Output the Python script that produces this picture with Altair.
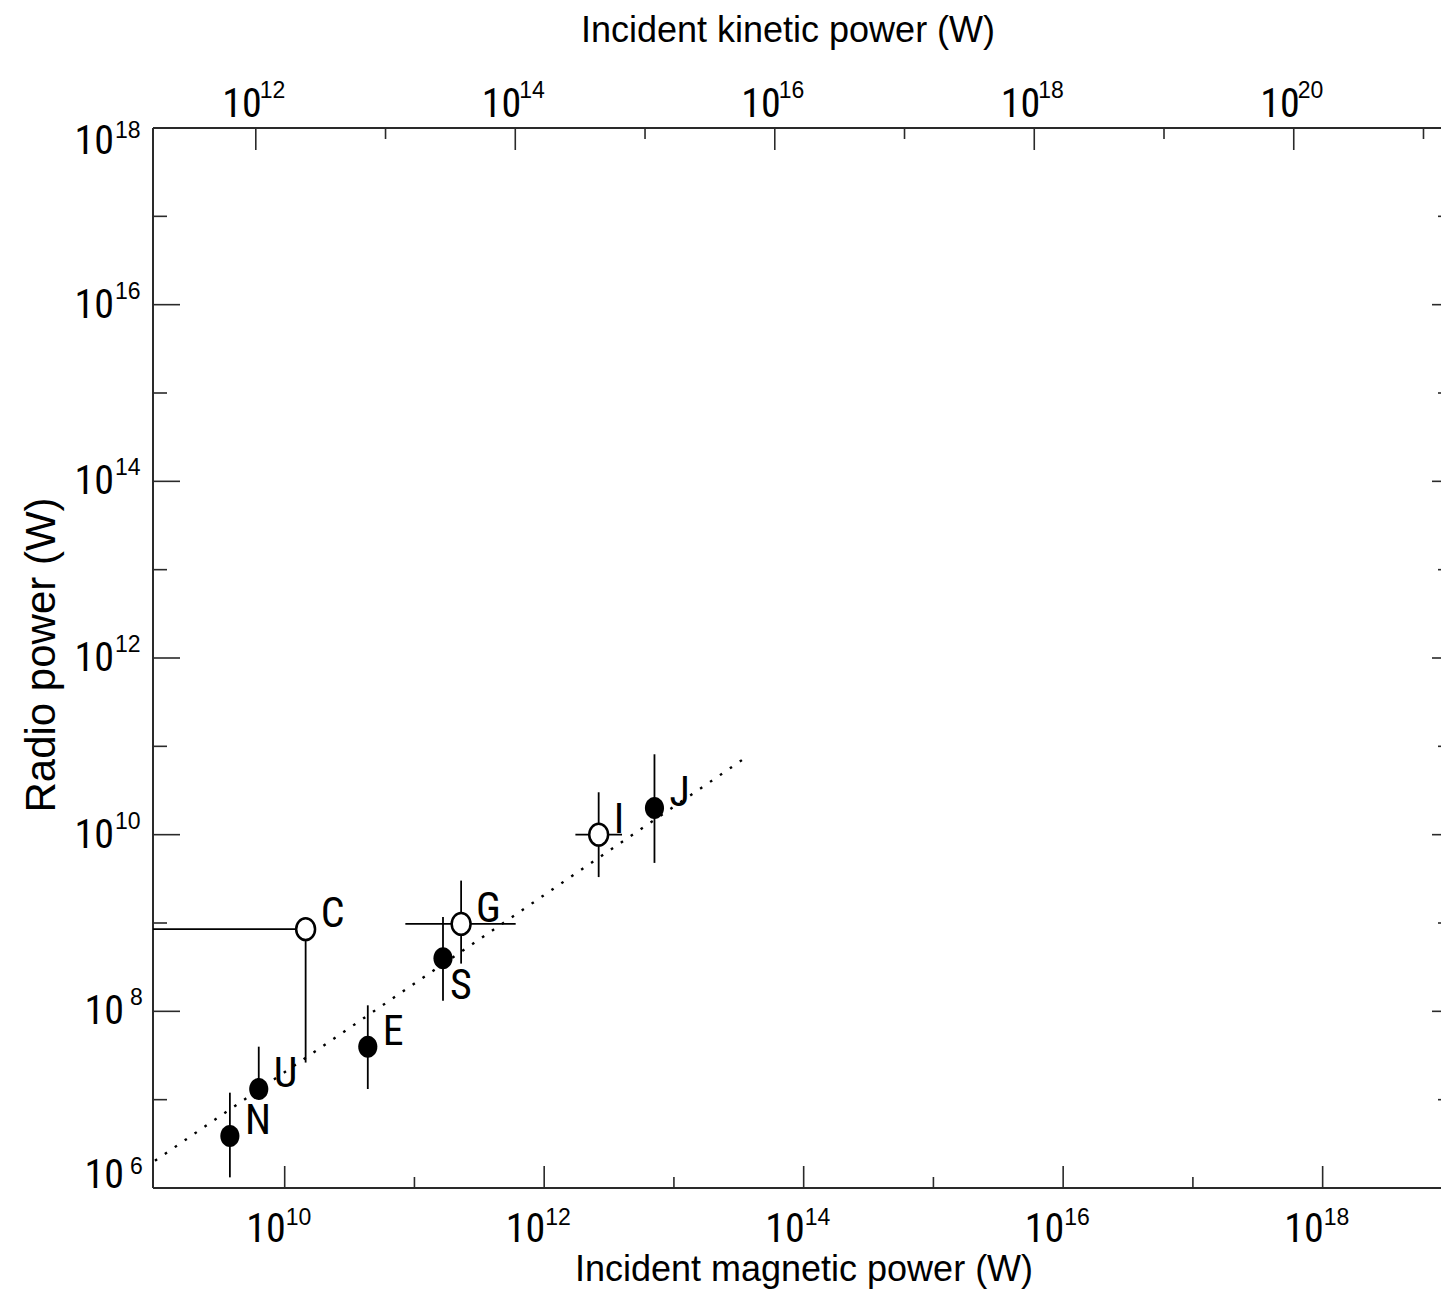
import math
import altair as alt
import pandas as pd

# ---------------- data ----------------
names = ["N", "U", "C", "E", "S", "G", "I", "J"]
filled = [True, True, False, True, True, False, False, True]
mag_pow = [3.78e9, 6.31e9, 1.45e10, 4.37e10, 1.66e11, 2.29e11, 2.63e12, 7.08e12]
radio_pow = [3.89e6, 1.32e7, 8.51e8, 3.98e7, 3.98e8, 9.77e8, 1.00e10, 2.00e10]
radio_lo = [1.32e6, 1.32e7, 2.63e7, 1.32e7, 1.32e8, 3.47e8, 3.31e9, 4.79e9]
radio_hi = [1.20e7, 3.98e7, 8.51e8, 1.17e8, 1.17e9, 3.02e9, 3.02e10, 8.13e10]
mag_lo = [None, None, 5.0e8, None, None, 8.51e10, 1.74e12, None]
mag_hi = [None, None, 1.45e10, None, None, 6.03e11, 3.98e12, None]

fit_mag = [1.0e9, 3.39e13]
fit_radio = [2.04e6, 7.08e10]

x_major = [1e10, 1e12, 1e14, 1e16, 1e18]
x_minor = [1e11, 1e13, 1e15, 1e17]
y_major = [1e6, 1e8, 1e10, 1e12, 1e14, 1e16, 1e18]
y_minor = [1e7, 1e9, 1e11, 1e13, 1e15, 1e17]
kin_major = [1e12, 1e14, 1e16, 1e18, 1e20]
kin_minor = [1e13, 1e15, 1e17, 1e19, 1e21]
kin_per_mag = 167.0  # top axis: incident kinetic power per unit incident magnetic power

X_DOMAIN = [9.66e8, 8.17e18]
Y_DOMAIN = [1e6, 1e18]

title_top = "Incident kinetic power (W)"
title_bottom = "Incident magnetic power (W)"
title_left = "Radio power (W)"

# ---------------- layout / style ----------------
W, H = 1288, 1060
LAB_FONT = "Roboto Condensed, Liberation Sans Narrow, Liberation Sans, Arial, sans-serif"
EXP_FONT = "Liberation Sans, Arial, sans-serif"
TITLE_FONT = "Liberation Sans, Arial, sans-serif"
AX = "#2a2a2a"
BASE_SIZE = 40
EXP_SIZE = 23

xs = alt.Scale(type="log", domain=X_DOMAIN, nice=False, zero=False)
ys = alt.Scale(type="log", domain=Y_DOMAIN, nice=False, zero=False)


def X(f):
    return alt.X(f, type="quantitative", scale=xs, axis=None)


def Y(f):
    return alt.Y(f, type="quantitative", scale=ys, axis=None)


def exps(vals):
    return [str(int(round(math.log10(v)))) for v in vals]


pts = pd.DataFrame({
    "name": names, "filled": filled, "mag": mag_pow, "radio": radio_pow,
    "lo": radio_lo, "hi": radio_hi, "mlo": mag_lo, "mhi": mag_hi,
})
fit = pd.DataFrame({"mag": fit_mag, "radio": fit_radio})

xmaj = pd.DataFrame({"v": x_major, "e": exps(x_major)})
xmin = pd.DataFrame({"v": x_minor})
ymaj = pd.DataFrame({"v": y_major, "e": exps(y_major)})
ymin = pd.DataFrame({"v": y_minor})
kmaj = pd.DataFrame({"v": [k / kin_per_mag for k in kin_major], "e": exps(kin_major)})
kmin = pd.DataFrame({"v": [k / kin_per_mag for k in kin_minor]})
one = pd.DataFrame({"a": [0]})

layers = []

# axis frame lines (left, bottom, top)
layers.append(alt.Chart(one).mark_rule(color=AX, strokeWidth=2).encode(
    x=alt.value(0), y=alt.value(0), y2=alt.value(H)))
layers.append(alt.Chart(one).mark_rule(color=AX, strokeWidth=2).encode(
    x=alt.value(0), x2=alt.value(W), y=alt.value(H)))
layers.append(alt.Chart(one).mark_rule(color=AX, strokeWidth=2).encode(
    x=alt.value(0), x2=alt.value(W), y=alt.value(0)))


# ticks (pointing inward)
def vtick(df, y0, y1):
    return alt.Chart(df).mark_rule(color=AX, strokeWidth=1.6).encode(
        x=X("v"), y=alt.value(y0), y2=alt.value(y1))


def htick(df, x0, x1):
    return alt.Chart(df).mark_rule(color=AX, strokeWidth=1.6).encode(
        y=Y("v"), x=alt.value(x0), x2=alt.value(x1))


layers += [
    vtick(xmaj, H, H - 22), vtick(xmin, H, H - 11),
    vtick(kmaj, 0, 22), vtick(kmin, 0, 11),
    htick(ymaj, 0, 27), htick(ymin, 0, 14),
    htick(ymaj, W - 9, W), htick(ymin, W - 3, W),
]


# tick labels: "10" + superscript exponent
def base_label(df, align, dx=0, dy=0, filt=None, **enc):
    c = alt.Chart(df)
    if filt:
        c = c.transform_filter(filt)
    return c.mark_text(align=align, baseline="alphabetic", font=LAB_FONT, fontSize=BASE_SIZE,
                       color="black", dx=dx, dy=dy).encode(text=alt.value("10"), **enc)


def exp_label(df, align, dx=0, dy=0, filt=None, **enc):
    c = alt.Chart(df)
    if filt:
        c = c.transform_filter(filt)
    return c.mark_text(align=align, baseline="alphabetic", font=EXP_FONT, fontSize=EXP_SIZE,
                       color="black", dx=dx, dy=dy).encode(text="e:N", **enc)


# bottom axis
layers.append(base_label(xmaj, "right", dx=1, x=X("v"), y=alt.value(1114)))
layers.append(exp_label(xmaj, "left", dx=1, x=X("v"), y=alt.value(1097)))
# top axis
layers.append(base_label(kmaj, "right", dx=6, x=X("v"), y=alt.value(-11)))
layers.append(exp_label(kmaj, "left", dx=4, x=X("v"), y=alt.value(-30)))
# left axis
layers.append(base_label(ymaj, "right", dy=0, filt="datum.v < 1e7", x=alt.value(-29), y=Y("v")))
layers.append(base_label(ymaj, "right", dy=13, filt="datum.v > 1e7 && datum.v < 1e9", x=alt.value(-29), y=Y("v")))
layers.append(base_label(ymaj, "right", dy=13, filt="datum.v > 1e9 && datum.v < 1e17", x=alt.value(-39), y=Y("v")))
layers.append(base_label(ymaj, "right", dy=26, filt="datum.v > 1e17", x=alt.value(-39), y=Y("v")))
layers.append(exp_label(ymaj, "left", dy=-14, filt="datum.v < 1e7", x=alt.value(-23), y=Y("v")))
layers.append(exp_label(ymaj, "left", dy=-6, filt="datum.v > 1e7 && datum.v < 1e9", x=alt.value(-23), y=Y("v")))
layers.append(exp_label(ymaj, "left", dy=-6, filt="datum.v > 1e9 && datum.v < 1e17", x=alt.value(-38), y=Y("v")))
layers.append(exp_label(ymaj, "left", dy=10, filt="datum.v > 1e17", x=alt.value(-38), y=Y("v")))

# axis titles
layers.append(alt.Chart(pd.DataFrame({"t": [title_top]})).mark_text(
    align="center", baseline="alphabetic", font=TITLE_FONT, fontSize=36, color="black").encode(
    text="t:N", x=alt.value(635), y=alt.value(-86)))
layers.append(alt.Chart(pd.DataFrame({"t": [title_bottom]})).mark_text(
    align="center", baseline="alphabetic", font=TITLE_FONT, fontSize=36, color="black").encode(
    text="t:N", x=alt.value(651), y=alt.value(1153)))
layers.append(alt.Chart(pd.DataFrame({"t": [title_left]})).mark_text(
    align="center", baseline="alphabetic", font=TITLE_FONT, fontSize=42, angle=270, color="black").encode(
    text="t:N", x=alt.value(-98), y=alt.value(527)))

# dotted fit line
layers.append(alt.Chart(fit).mark_line(color="black", strokeWidth=2.4, strokeDash=[2.6, 9.4],
                                       strokeCap="butt").encode(x=X("mag"), y=Y("radio")))

# error bars
layers.append(alt.Chart(pts).mark_rule(color="black", strokeWidth=1.8).encode(
    x=X("mag"), y=Y("lo"), y2=alt.Y2("hi")))
layers.append(alt.Chart(pts).transform_filter("isValid(datum.mlo)").mark_rule(
    color="black", strokeWidth=1.8, clip=True).encode(
    x=X("mlo"), x2=alt.X2("mhi"), y=Y("radio")))

# markers (slightly tall ellipses as in the reference)
ELL = "M -0.87 0 A 0.87 1 0 1 0 0.87 0 A 0.87 1 0 1 0 -0.87 0 Z"
layers.append(alt.Chart(pts).transform_filter("datum.filled").mark_point(
    shape=ELL, filled=True, size=484, color="black", opacity=1).encode(x=X("mag"), y=Y("radio")))
layers.append(alt.Chart(pts).transform_filter("!datum.filled").mark_point(
    shape=ELL, filled=False, size=470, stroke="black", fill="white", fillOpacity=1,
    strokeWidth=2.5, opacity=1).encode(x=X("mag"), y=Y("radio")))

# point labels
layers.append(alt.Chart(pts).transform_filter("datum.name != 'S'").mark_text(
    align="left", baseline="alphabetic", font=LAB_FONT, fontSize=42, color="black", dx=15, dy=-2).encode(
    x=X("mag"), y=Y("radio"), text="name:N"))
layers.append(alt.Chart(pts).transform_filter("datum.name == 'S'").mark_text(
    align="left", baseline="alphabetic", font=LAB_FONT, fontSize=42, color="black", dx=7, dy=41).encode(
    x=X("mag"), y=Y("radio"), text="name:N"))

chart = alt.layer(*layers).properties(
    width=W, height=H,
    autosize=alt.AutoSizeParams(type="none"),
    padding={"left": 153, "top": 128, "right": 0, "bottom": 107},
    background="white",
).configure_view(stroke=None)

chart.save("out.html", embed_options={"renderer": "svg", "actions": False})
